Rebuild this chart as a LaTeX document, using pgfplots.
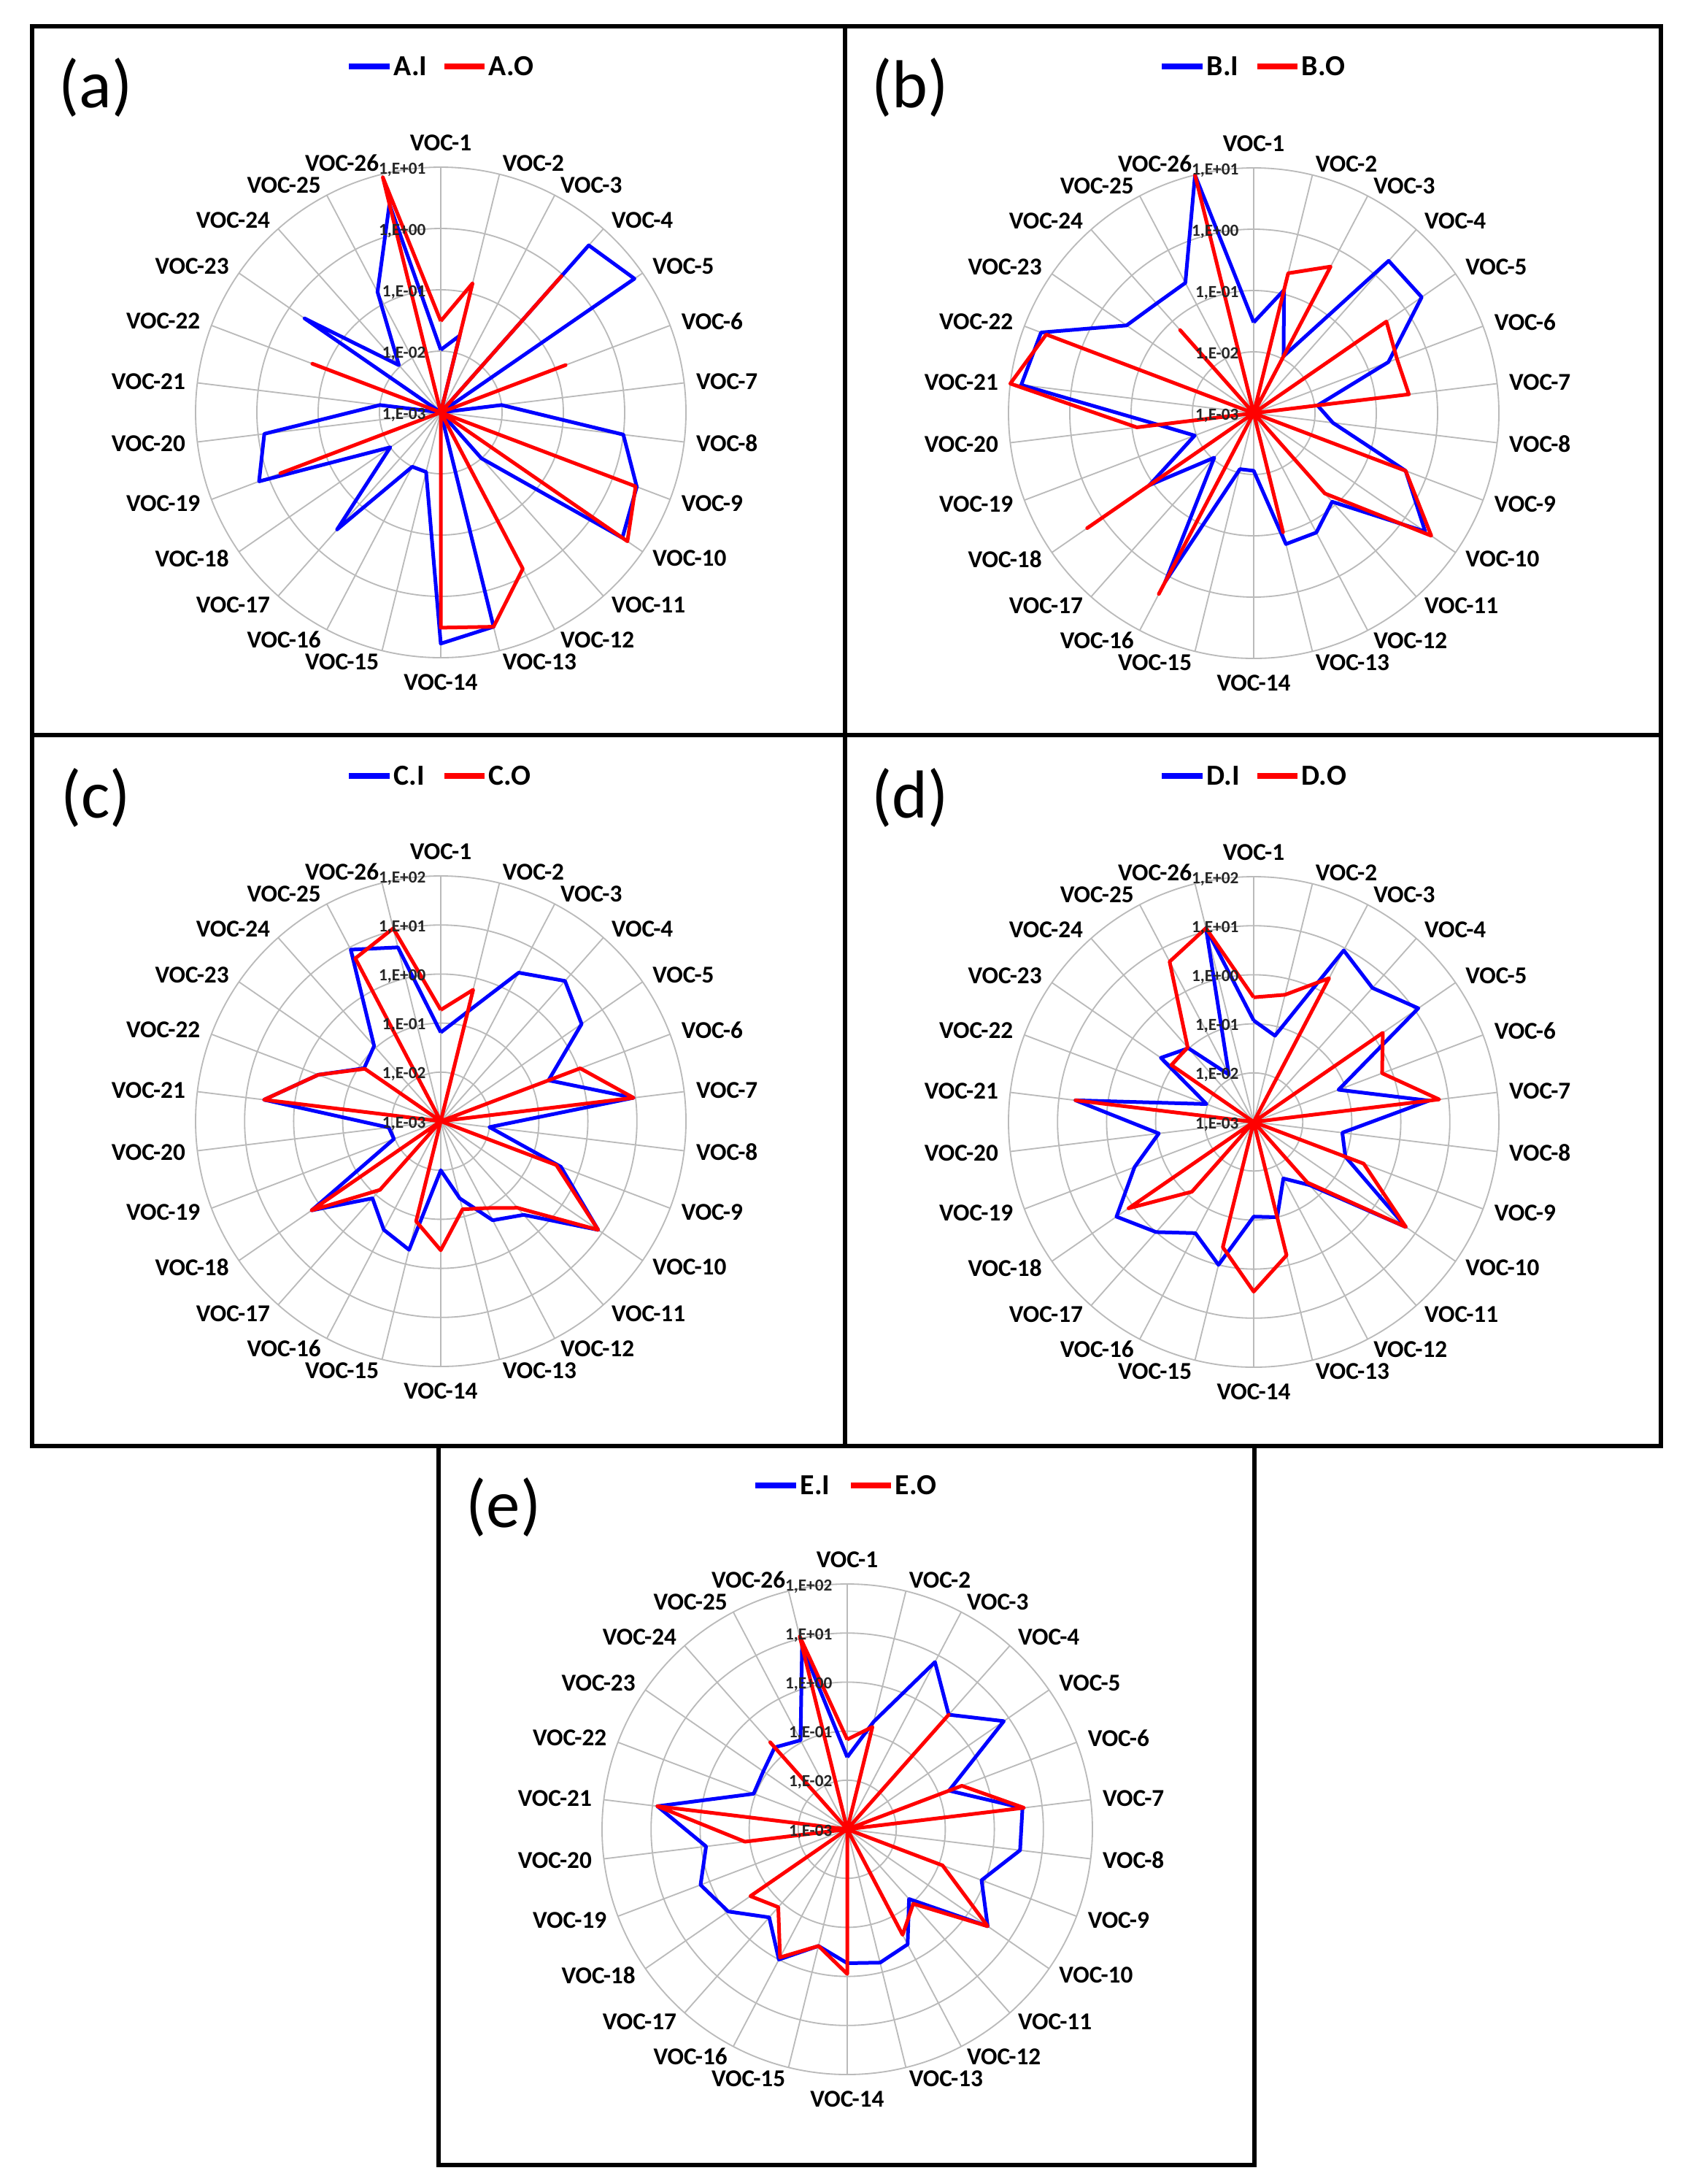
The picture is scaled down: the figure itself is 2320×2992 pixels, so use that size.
\documentclass[border=0pt]{standalone}
\usepackage{fontspec}
\setmainfont{Carlito}
\usepackage{pgfplots}
\usepackage{pgfplotstable}
\pgfplotsset{compat=1.18}

% k = spoke index (VOC-(k+1)); I = indoor, O = outdoor; row 26 repeats row 0 to close the polygon
\pgfplotstableread{
k I O
0 1.05e-2 3.09e-2
1 1.95e-2 0.148
2 1e-3 1e-3
3 4.37 0.933
4 6.92 1e-3
5 1e-3 0.151
6 1e-2 1e-3
7 1.0 1e-3
8 2.63 2.51
9 3.98 5.01
10 1e-2 1e-3
11 1e-3 0.759
12 3.98 3.98
13 5.89 3.24
14 1e-2 1e-3
15 1e-2 1e-3
16 0.355 1e-3
17 1e-2 1e-3
18 1.48 0.631
19 0.794 1e-3
20 1e-2 1e-3
21 1e-3 0.174
22 0.501 1e-3
23 1.07e-2 1e-3
24 0.166 1e-3
25 3.16 8.91
26 1.05e-2 3.09e-2
}\tabA

\pgfplotstableread{
k I O
0 3.02e-2 1e-3
1 0.117 0.224
2 1.12e-2 0.501
3 2.09 1e-3
4 2.14 0.427
5 0.224 0.316
6 1.12e-2 0.355
7 2.0e-2 1e-3
8 0.447 0.447
9 2.51 3.31
10 8.51e-2 5.62e-2
11 0.158 1e-3
12 0.158 0.1
13 8.71e-3 1e-3
14 8.71e-3 1e-3
15 1.26 2.14
16 9.33e-3 1e-3
17 0.117 2.0
18 1.07e-2 1e-3
19 3.72e-2 8.32e-2
20 6.61 10
21 5.13 4.17
22 0.331 1e-3
23 0.245 6.46e-2
24 0.251 1e-3
25 10 10
26 3.02e-2 1e-3
}\tabB

\pgfplotstableread{
k I O
0 6.46e-2 0.186
1 0.2 0.575
2 2.63 1e-3
3 6.61 1e-3
4 3.09 1e-3
5 0.224 1.10
6 9.12 9.12
7 1e-2 1e-3
8 0.417 0.331
9 7.94 7.94
10 0.355 0.229
11 0.191 0.1
12 4.17e-2 7.08e-2
13 1e-2 0.427
14 0.501 0.126
15 0.316 1e-3
16 0.126 7.41e-2
17 1.58 1.58
18 1.05e-2 1e-3
19 1.17e-2 1e-3
20 4.27 4.27
21 0.468 0.468
22 7.94e-2 7.59e-2
23 0.112 1e-3
24 8.91 5.62
25 4.47 11.2
26 6.46e-2 0.186
}\tabC

\pgfplotstableread{
k I O
0 0.117 0.347
1 6.46e-2 0.468
2 8.91 2.04
3 4.47 1e-3
4 12.0 1.58
5 7.08e-2 0.631
6 3.98 6.46
7 6.61e-2 1e-3
8 0.1 0.251
9 5.89 5.89
10 5.25e-2 4.47e-2
11 2.0e-2 1e-3
12 0.1 0.631
13 8.51e-2 2.88
14 1.0 0.427
15 0.363 1e-3
16 1.0 7.94e-2
17 2.51 1.26
18 0.398 1e-3
19 8.91e-2 1e-3
20 4.57 4.57
21 1.07e-2 1e-3
22 0.2 0.110
23 0.102 0.107
24 1.23e-2 4.90
25 11.7 11.7
26 0.117 0.347
}\tabD

\pgfplotstableread{
k I O
0 2.95e-2 6.76e-2
1 0.182 0.141
2 7.08 1e-3
3 1.32 1.32
4 7.59 1e-3
5 0.166 0.316
6 3.98 4.27
7 3.55 1e-3
8 0.851 0.120
9 3.02 3.02
10 7.94e-2 0.107
11 0.447 0.269
12 0.631 1e-3
13 0.537 0.891
14 0.282 0.282
15 1.0 0.891
16 0.251 0.132
17 0.891 0.251
18 1.58 1e-3
19 0.794 0.126
20 7.94 7.94
21 0.110 1e-3
22 0.120 1e-3
23 0.170 0.234
24 0.112 1e-3
25 7.08 11.2
26 2.95e-2 6.76e-2
}\tabE

\tikzset{
  gridc/.style={draw=black!27, line width=0.55bp},
  lab/.style={font=\fontsize{10}{11}\selectfont\bfseries, inner sep=0pt, text=black},
  tck/.style={font=\fontsize{7}{8}\selectfont\bfseries, inner sep=0pt, text=black!85},
  leg/.style={font=\fontsize{12}{13}\selectfont\bfseries, inner sep=0pt, text=black},
  frm/.style={line width=1.6bp, draw=black}
}

% radar background: #1 cx, #2 cy (picture px, y downwards), #3 number of decades
\newcommand{\radarbg}[3]{%
  \foreach \i in {1,...,#3} \draw[gridc] (#1,#2) circle[radius={336*\i/#3}];
  \foreach \k in {0,...,25} \draw[gridc] (#1,#2) -- ({#1+336*sin(\k*360/26)},{#2-336*cos(\k*360/26)});
  \foreach \k in {0,...,25} {%
    \pgfmathtruncatemacro{\n}{\k+1}%
    \ifnum\k=0 \def\anc{south}\def\rr{358}\else
      \ifnum\k=13 \def\anc{north}\def\rr{358}\else
        \ifnum\k<13 \def\anc{west}\def\rr{352}\else \def\anc{east}\def\rr{352}\fi
      \fi
    \fi
    \node[lab, anchor=\anc] at ({#1+\rr*sin(\k*360/26)},{#2-\rr*cos(\k*360/26)}) {VOC-\n};
  }%
}
\newcommand{\radarticks}[3]{%
  \foreach \i/\t in {0/{1,E-03},1/{1,E-02},2/{1,E-01},3/{1,E+00},4/{1,E+01},5/{1,E+02}} {%
    \ifnum\i>#3\relax\else
      \node[tck, anchor=east] at ({#1-20},{#2-336*\i/#3+3}) {\t};
    \fi
  }%
}
\newcommand{\radleg}[4]{%
  \draw[blue, line width=2.2bp] ({#1-126},#2) -- ({#1-70},#2);
  \node[leg, anchor=west] at ({#1-65},#2) {#3};
  \draw[red, line width=2.2bp] ({#1+5},#2) -- ({#1+60},#2);
  \node[leg, anchor=west] at ({#1+65},#2) {#4};
}
\newcommand{\radplot}[3]{%
  \addplot[#3, line width=1.5bp, line join=round, mark=none]
    table[x expr={(ln(\thisrow{#2})/2.302585+3)*sin(\thisrow{k}*13.846154)},
          y expr={(ln(\thisrow{#2})/2.302585+3)*cos(\thisrow{k}*13.846154)}] {#1};
}
% axis placed with explicit canvas dimensions (picture px -> bp, y downwards)
\pgfplotsset{radar/.style 2 args={at={({#1*0.3bp},{-#2*0.3bp})}, anchor=center, hide axis, clip=false}}

\begin{document}
\begin{tikzpicture}[x=0.3bp,y=-0.3bp]
\path[use as bounding box] (0,0) rectangle (2320,2992);
\fill[white] (0,0) rectangle (2320,2992);

% ---------- backgrounds ----------
\radarbg{604}{565}{4}
\radarbg{1718}{566}{4}
\radarbg{604}{1536}{5}
\radarbg{1718}{1537}{5}
\radarbg{1161}{2506}{5}

% ---------- (a) ----------
\begin{axis}[radar={604}{565}, x=25.2bp, y=25.2bp, xmin=-4, xmax=4, ymin=-4, ymax=4]
\radplot{\tabA}{I}{blue}
\radplot{\tabA}{O}{red}
\end{axis}
% ---------- (b) ----------
\begin{axis}[radar={1718}{566}, x=25.2bp, y=25.2bp, xmin=-4, xmax=4, ymin=-4, ymax=4]
\radplot{\tabB}{I}{blue}
\radplot{\tabB}{O}{red}
\end{axis}
% ---------- (c) ----------
\begin{axis}[radar={604}{1536}, x=20.16bp, y=20.16bp, xmin=-5, xmax=5, ymin=-5, ymax=5]
\radplot{\tabC}{I}{blue}
\radplot{\tabC}{O}{red}
\end{axis}
% ---------- (d) ----------
\begin{axis}[radar={1718}{1537}, x=20.16bp, y=20.16bp, xmin=-5, xmax=5, ymin=-5, ymax=5]
\radplot{\tabD}{I}{blue}
\radplot{\tabD}{O}{red}
\end{axis}
% ---------- (e) ----------
\begin{axis}[radar={1161}{2506}, x=20.16bp, y=20.16bp, xmin=-5, xmax=5, ymin=-5, ymax=5]
\radplot{\tabE}{I}{blue}
\radplot{\tabE}{O}{red}
\end{axis}

% ---------- radial tick labels ----------
\radarticks{604}{565}{4}
\radarticks{1718}{566}{4}
\radarticks{604}{1536}{5}
\radarticks{1718}{1537}{5}
\radarticks{1161}{2506}{5}

% ---------- legends ----------
\radleg{604}{91}{A.I}{A.O}
\radleg{1718}{91}{B.I}{B.O}
\radleg{604}{1063}{C.I}{C.O}
\radleg{1718}{1063}{D.I}{D.O}
\radleg{1161}{2035}{E.I}{E.O}

% ---------- panel letters ----------
\foreach \x/\y/\l in {131/120/a,1247/120/b,131/1093/c,1247/1093/d,690/2065/e}
  \node[font=\fontsize{28}{30}\selectfont, inner sep=0pt] at (\x,\y) {(\l)};

% ---------- frames ----------
\draw[frm] (44,36) rectangle (2276,1981);
\draw[frm] (1158,36) -- (1158,1981);
\draw[frm] (44,1007) -- (2276,1007);
\draw[frm] (601,1981) rectangle (1719,2966);
\end{tikzpicture}
\end{document}
